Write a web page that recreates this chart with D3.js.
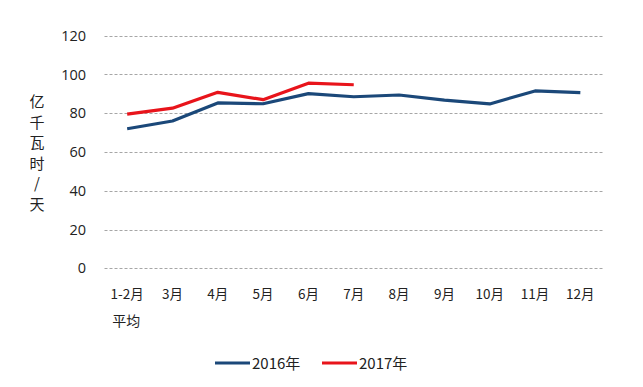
<!DOCTYPE html>
<html>
<head>
<meta charset="utf-8">
<script src="https://cdn.jsdelivr.net/npm/d3@7"></script>
<style>
  body { margin: 0; background: #fff; }
  svg text { font-family: "Noto Sans CJK SC", "Open Sans", sans-serif; fill: #222; }
  .grid line { stroke: #a6a6a6; stroke-dasharray: 3,2; stroke-width: 1; }
</style>
</head>
<body>
<svg width="643" height="387"></svg>
<script>
var months = ["1-2月", "3月", "4月", "5月", "6月", "7月", "8月", "9月", "10月", "11月", "12月"];
var values2016 = [72, 76, 85.3, 84.9, 90.1, 88.5, 89.4, 86.8, 84.8, 91.5, 90.6];
var values2017 = [79.5, 82.6, 90.8, 87, 95.5, 94.7];
var yTicks = [0, 20, 40, 60, 80, 100, 120];
var seriesNames = ["2016年", "2017年"];
var colors = ["#1b4879", "#e8141b"];

var svg = d3.select("svg");

var xScale = d3.scaleBand().domain(months).range([104.5, 603]).padding(0);
var yScale = d3.scaleLinear().domain([0, 120]).range([268.3, 35.7]);

// grid lines
svg.append("g")
    .attr("class", "grid")
    .selectAll("line")
    .data(yTicks)
    .enter()
    .append("line")
    .attr("x1", 104.5)
    .attr("x2", 603)
    .attr("y1", (d) => Math.round(yScale(d)) + 0.5)
    .attr("y2", (d) => Math.round(yScale(d)) + 0.5);

// y axis labels
var yAxis = svg.append("g")
    .attr("transform", "translate(86,0)")
    .call(d3.axisLeft(yScale).tickValues(yTicks).tickSize(0).tickPadding(0));
yAxis.select(".domain").remove();
yAxis.selectAll("text")
    .attr("font-size", 14.5)
    .style("font-family", "'Open Sans', sans-serif")
    .attr("fill", "#222");

// y axis title, stacked characters
var title = "亿千瓦时/天".split("");
svg.append("g")
    .selectAll("text")
    .data(title)
    .enter()
    .append("text")
    .attr("x", 37)
    .attr("y", (d, i) => 107 + i * 20.5)
    .attr("text-anchor", "middle")
    .attr("font-size", 15)
    .text((d) => d);

// x labels
var xAxis = svg.append("g")
    .attr("transform", "translate(0,289)")
    .call(d3.axisBottom(xScale).tickSize(0).tickPadding(0));
xAxis.select(".domain").remove();
xAxis.selectAll("text")
    .attr("font-size", 13.5)
    .attr("dy", "0.71em")
    .attr("fill", "#222");
svg.append("text")
    .attr("x", xScale(months[0]) + xScale.bandwidth() / 2 - 1)
    .attr("y", 326)
    .attr("text-anchor", "middle")
    .attr("font-size", 14)
    .text("平均");

// lines
var line = d3.line()
    .x((d, i) => xScale(months[i]) + xScale.bandwidth() / 2)
    .y((d) => yScale(d));

[values2016, values2017].forEach(function(vals, k) {
    svg.append("path")
        .datum(vals)
        .attr("fill", "none")
        .attr("stroke", colors[k])
        .attr("stroke-width", 3.2)
        .attr("stroke-linejoin", "round")
        .attr("d", line);
});

// legend
var legend = svg.append("g")
    .selectAll("g")
    .data(seriesNames)
    .enter()
    .append("g")
    .attr("transform", (d, i) => "translate(" + (215 + i * 107) + ",363)");
legend.append("line")
    .attr("x1", 0)
    .attr("x2", 35)
    .attr("stroke", (d, i) => colors[i])
    .attr("stroke-width", 3);
legend.append("text")
    .attr("x", 37)
    .attr("y", 5.5)
    .attr("font-size", 15)
    .text((d) => d);
</script>
</body>
</html>
